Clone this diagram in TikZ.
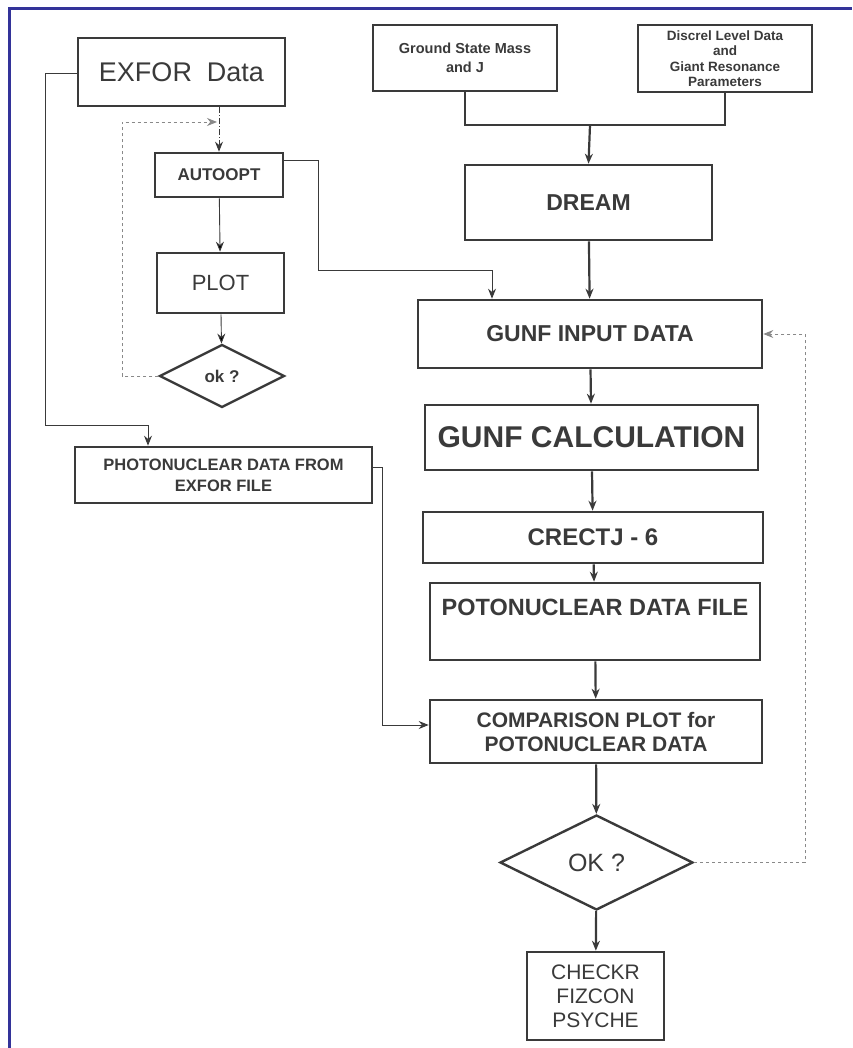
\documentclass[tikz,border=0pt]{standalone}
\usepackage{fontspec}
\setmainfont{Liberation Sans}
\usepackage{tikz}
\usetikzlibrary{shapes.geometric}
\usetikzlibrary{arrows.meta,positioning}
\definecolor{ink}{HTML}{3A3A3A}
\definecolor{frameblue}{HTML}{333399}
\newcommand{\fs}[2]{\fontsize{#1}{#2}\selectfont}
\tikzstyle{box}=[rectangle,draw=ink,line width=2.6pt,text=ink,align=center,inner sep=2pt]
\tikzstyle{decision}=[diamond,draw=ink,line width=2.4pt,text=ink,inner sep=0pt]
\tikzstyle{flow}=[draw=ink,line width=2.2pt]
\tikzstyle{thin flow}=[draw=ink,line width=0.9pt]
\tikzstyle{loop}=[draw=ink!60,line width=0.9pt,dashed]

\begin{document}
\begin{tikzpicture}[->,>={Stealth[length=10pt,width=8pt]}, x=1pt, y=-1pt]
  \useasboundingbox (0,0) rectangle (852,1048);
  \draw[-,frameblue,line width=3pt] (9,1048) -- (9,9) -- (852,9);

  % left column
  \node[box] (exfor) [minimum width=207pt, minimum height=68pt, font=\fs{27}{30}] at (181.5,72) {EXFOR\ \ Data};
  \node[box] (autoopt) [minimum width=128pt, minimum height=44pt, font=\bfseries\fs{17}{20}] at (219,175) {AUTOOPT};
  \node[box] (plot) [minimum width=127pt, minimum height=60pt, font=\fs{22}{26}] at (220.5,283) {PLOT};
  \node[decision] (okleft) [minimum width=125pt, minimum height=63pt, font=\bfseries\fs{17}{20}] at (222,376) {ok ?};
  \node[box] (photo) [minimum width=297pt, minimum height=56pt, font=\bfseries\fs{16.5}{21}] at (223.5,475) {PHOTONUCLEAR DATA FROM\\EXFOR FILE};

  % right column
  \node[box] (ground) [minimum width=184pt, minimum height=66pt, line width=2pt, font=\bfseries\fs{14.5}{19}] at (465,58) {Ground State Mass\\and J};
  \node[box] (discrel) [minimum width=174pt, minimum height=67pt, line width=2pt, font=\bfseries\fs{13.5}{15.5}] at (725,58.5) {Discrel Level Data\\and\\Giant Resonance\\Parameters};
  \node[box] (dream) [minimum width=247pt, minimum height=75pt, font=\bfseries\fs{23}{26}] at (588.5,202.5) {DREAM};
  \node[box] (gunfin) [minimum width=344pt, minimum height=68pt, font=\bfseries\fs{23}{26}] at (590,334) {GUNF INPUT DATA};
  \node[box] (gunfcalc) [minimum width=333pt, minimum height=65pt, font=\bfseries\fs{30}{34}] at (591.5,437.5) {GUNF CALCULATION};
  \node[box] (crectj) [minimum width=340pt, minimum height=51pt, font=\bfseries\fs{24}{28}] at (593,537.5) {CRECTJ - 6};
  \node[box] (potofile) [minimum width=330pt, minimum height=77pt, font=\bfseries\fs{23.5}{27}] at (595,621.5) {POTONUCLEAR DATA FILE\\[2pt]};
  \node[box] (compare) [minimum width=332pt, minimum height=63pt, font=\bfseries\fs{21}{24}] at (596,731.5) {COMPARISON PLOT for\\POTONUCLEAR DATA};
  \node[decision] (okright) [minimum width=193pt, minimum height=95pt, font=\fs{25}{28}] at (596.5,862.5) {OK ?};
  \node[box] (checkr) [minimum width=137pt, minimum height=88pt, font=\fs{21}{24}] at (595.5,996) {CHECKR\\FIZCON\\PSYCHE};

  \coordinate (merge) at (590,125);
  \coordinate (loopcorner) at (122,122);
  \coordinate (loopend) at (217,122);
  \coordinate (exforleft) at (45,73);
  \coordinate (photoin) at (148,425);
  \coordinate (autoturn) at (318,160);
  \coordinate (gunfturn) at (492,270);
  \coordinate (phototurn) at (382,467);
  \coordinate (okturn) at (805,862.5);

  % inputs of DREAM
  \draw[-,flow,line width=1.6pt] (ground.south) |- (merge);
  \draw[-,flow,line width=1.6pt] (discrel.south) |- (merge);
  \draw[flow] (merge) -- (dream.north);

  % main column
  \path[flow]
  (dream) edge node {} (gunfin)
  (gunfin) edge node {} (gunfcalc)
  (gunfcalc) edge node {} (crectj)
  (crectj) edge node {} (potofile)
  (potofile) edge node {} (compare)
  (compare) edge node {} (okright)
  (okright) edge node {} (checkr);

  % left column
  \draw[thin flow,dash pattern=on 6pt off 2pt on 1pt off 2pt] (exfor.south -| autoopt.north) -- (autoopt.north);
  \path[thin flow]
  (autoopt) edge node {} (plot)
  (plot) edge node {} (okleft);
  \draw[loop] (okleft.west) -| (loopcorner) -- (loopend);
  \draw[thin flow] (autoopt.east |- autoturn) -- (autoturn) |- (gunfturn) -- (gunfturn |- gunfin.north);
  \draw[thin flow] (exfor.west |- exforleft) -- (exforleft) |- (photoin) -- (photoin |- photo.north);
  \draw[thin flow] (photo.east |- phototurn) -- (phototurn) |- (compare.west |- 0,725);
  \draw[loop] (okright.east) -- (okturn) |- (gunfin.east);
\end{tikzpicture}
\end{document}
